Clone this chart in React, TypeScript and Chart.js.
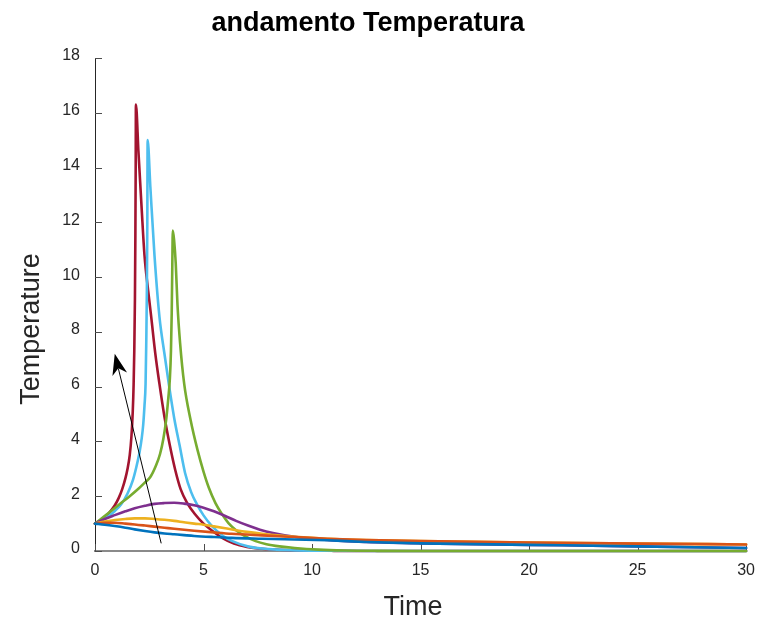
import React, { useEffect, useRef } from "react";
import { Chart, registerables } from "chart.js";

Chart.register(...registerables);

// ---------- data ----------
const xTickValues = [0, 5, 10, 15, 20, 25, 30];
const yTickValues = [0, 2, 4, 6, 8, 10, 12, 14, 16, 18];

const titleText = "andamento Temperatura";
const xTitleText = "Time";
const yTitleText = "Temperature";

const blueX = [0, 0.45, 0.91, 1.4, 1.83, 2.3, 2.74, 3.2, 3.65, 4.1, 4.57, 5.48, 6.3, 7.7, 9.2, 10.7, 12.5, 15, 20, 25, 30];
const blueY = [1, 0.96, 0.91, 0.85, 0.79, 0.73, 0.68, 0.64, 0.61, 0.58, 0.55, 0.51, 0.48, 0.45, 0.42, 0.39, 0.33, 0.28, 0.225, 0.17, 0.11];

const orangeX = [0, 0.45, 0.91, 1.4, 1.83, 2.3, 2.74, 3.2, 3.65, 4.57, 5.48, 6.3, 7.7, 9.2, 10.7, 12.5, 15, 20, 25, 30];
const orangeY = [1, 1.03, 1.03, 1.0, 0.97, 0.93, 0.89, 0.85, 0.81, 0.74, 0.68, 0.63, 0.57, 0.51, 0.45, 0.4, 0.36, 0.31, 0.27, 0.24];

const yellowX = [0, 0.45, 0.91, 1.4, 1.83, 2.3, 2.74, 3.2, 3.65, 4.1, 4.57, 5.0, 5.48, 6.0, 6.5, 7.1, 7.7, 8.4, 9.2, 10.7, 12.5, 15, 20, 25, 30];
const yellowY = [1, 1.08, 1.13, 1.17, 1.19, 1.19, 1.17, 1.14, 1.1, 1.05, 1.0, 0.96, 0.9, 0.83, 0.76, 0.69, 0.63, 0.57, 0.52, 0.45, 0.4, 0.36, 0.31, 0.27, 0.24];

const purpleX = [0, 0.45, 0.91, 1.4, 1.83, 2.3, 2.74, 3.2, 3.65, 4.1, 4.57, 5.0, 5.48, 6.0, 6.5, 7.08, 7.6, 8.2, 9.2, 10.7, 12.5, 15, 20, 25, 30];
const purpleY = [1, 1.17, 1.31, 1.45, 1.56, 1.65, 1.72, 1.75, 1.76, 1.73, 1.67, 1.58, 1.45, 1.28, 1.1, 0.92, 0.78, 0.66, 0.52, 0.4, 0.33, 0.28, 0.225, 0.17, 0.11];

const greenX = [0, 0.4, 0.8, 1.2, 1.6, 2.0, 2.3, 2.55, 2.8, 3.0, 3.15, 3.28, 3.38, 3.45, 3.5, 3.535, 3.56, 3.585, 3.65, 3.72, 3.8, 3.92, 4.11, 4.4, 4.72, 5.0, 5.25, 5.55, 5.85, 6.15, 6.5, 6.93, 7.4, 7.9, 8.5, 9.2, 10.3, 11.5, 13, 15, 20, 25, 30];
const greenY = [1, 1.25, 1.5, 1.75, 2.0, 2.27, 2.5, 2.7, 3.1, 3.55, 4.1, 4.8, 5.6, 6.3, 7.3, 8.7, 10.3, 11.7, 11.3, 10.5, 9.0, 7.6, 6.1, 4.8, 3.7, 2.9, 2.3, 1.75, 1.35, 1.02, 0.76, 0.53, 0.36, 0.25, 0.17, 0.11, 0.05, 0.02, 0.006, 0.001, 0, 0, 0];

const lightBlueX = [0, 0.3, 0.6, 0.9, 1.2, 1.5, 1.75, 1.9, 2.05, 2.15, 2.22, 2.28, 2.33, 2.36, 2.39, 2.41, 2.425, 2.55, 2.74, 2.97, 3.2, 3.4, 3.65, 3.9, 4.15, 4.43, 4.7, 5.0, 5.4, 5.9, 6.3, 7.08, 8.0, 9.0, 10.5, 13, 15, 20, 25, 30];
const lightBlueY = [1, 1.12, 1.26, 1.45, 1.7, 2.1, 2.6, 3.05, 3.6, 4.1, 4.6, 5.3, 6.1, 7.5, 9.5, 12, 15.0, 13.3, 10.8, 8.55, 7.2, 6.1, 4.85, 3.85, 2.85, 2.15, 1.7, 1.3, 0.9, 0.55, 0.37, 0.16, 0.07, 0.03, 0.01, 0.001, 0, 0, 0, 0];

const darkRedX = [0, 0.3, 0.6, 0.9, 1.1, 1.25, 1.4, 1.5, 1.6, 1.68, 1.74, 1.78, 1.81, 1.84, 1.86, 1.875, 1.885, 2.0, 2.15, 2.28, 2.45, 2.59, 2.78, 2.97, 3.2, 3.45, 3.7, 3.95, 4.25, 4.6, 5.0, 5.4, 5.9, 6.4, 7.0, 7.7, 8.5, 9.5, 11, 13, 15, 20, 25, 30];
const darkRedY = [1, 1.15, 1.35, 1.65, 1.95, 2.25, 2.65, 3.0, 3.5, 4.2, 5.1, 6.1, 7.3, 9.2, 11.5, 14, 16.3, 14.6, 12.5, 10.8, 9.5, 8.55, 7.2, 6.1, 4.9, 3.85, 2.95, 2.25, 1.75, 1.35, 1.0, 0.74, 0.46, 0.27, 0.15, 0.08, 0.045, 0.02, 0.006, 0.001, 0, 0, 0, 0];

const seriesNames = ["curve 1", "curve 2", "curve 3", "curve 4", "curve 5", "curve 6", "curve 7"];
const seriesColors = ["#0072BD", "#D95319", "#EDB120", "#7E2F8E", "#77AC30", "#4DBEEE", "#A2142F"];
const seriesX = [blueX, orangeX, yellowX, purpleX, greenX, lightBlueX, darkRedX];
const seriesY = [blueY, orangeY, yellowY, purpleY, greenY, lightBlueY, darkRedY];

// arrow annotation (data coordinates): from -> to
const arrowFrom = [3.05, 0.28];
const arrowTo = [0.91, 7.2];

const FONT = "'Liberation Sans', Arial, Helvetica, sans-serif";

const decorPlugin = {
  id: "decor",
  beforeDatasetsDraw(chart: any) {
    const { ctx, chartArea, scales } = chart;
    ctx.save();
    ctx.strokeStyle = "#4d4d4d";
    ctx.lineWidth = 1;
    ctx.beginPath();
    yTickValues.forEach((v) => {
      const py = Math.round(scales.y.getPixelForValue(v)) + 0.5;
      ctx.moveTo(chartArea.left, py);
      ctx.lineTo(chartArea.left + 7, py);
    });
    xTickValues.forEach((v) => {
      const px = Math.round(scales.x.getPixelForValue(v)) + 0.5;
      ctx.moveTo(px, chartArea.bottom);
      ctx.lineTo(px, chartArea.bottom - 7);
    });
    ctx.stroke();
    ctx.restore();
  },
  afterDatasetsDraw(chart: any) {
    const { ctx, scales } = chart;
    const x0 = scales.x.getPixelForValue(arrowFrom[0]);
    const y0 = scales.y.getPixelForValue(arrowFrom[1]);
    const x1 = scales.x.getPixelForValue(arrowTo[0]);
    const y1 = scales.y.getPixelForValue(arrowTo[1]);
    const dx = x1 - x0;
    const dy = y1 - y0;
    const len = Math.hypot(dx, dy);
    const ux = dx / len;
    const uy = dy / len;
    const nx = -uy;
    const ny = ux;
    const headLen = 21;
    const headW = 7.5;
    const notch = 15;
    ctx.save();
    ctx.strokeStyle = "#000";
    ctx.fillStyle = "#000";
    ctx.lineWidth = 1;
    ctx.beginPath();
    ctx.moveTo(x0, y0);
    ctx.lineTo(x1 - ux * notch, y1 - uy * notch);
    ctx.stroke();
    ctx.beginPath();
    ctx.moveTo(x1, y1);
    ctx.lineTo(x1 - ux * headLen + nx * headW, y1 - uy * headLen + ny * headW);
    ctx.lineTo(x1 - ux * notch, y1 - uy * notch);
    ctx.lineTo(x1 - ux * headLen - nx * headW, y1 - uy * headLen - ny * headW);
    ctx.closePath();
    ctx.fill();
    ctx.restore();
  },
  afterDraw(chart: any) {
    const { ctx } = chart;
    ctx.save();
    ctx.fillStyle = "#000";
    ctx.textAlign = "center";
    ctx.textBaseline = "alphabetic";
    ctx.font = `bold 27px ${FONT}`;
    ctx.fillText(titleText, 368, 31);
    ctx.fillStyle = "#262626";
    ctx.font = `27px ${FONT}`;
    ctx.fillText(xTitleText, 413, 615);
    ctx.translate(39, 329);
    ctx.rotate(-Math.PI / 2);
    ctx.fillText(yTitleText, 0, 0);
    ctx.restore();
  },
};

export default function App() {
  const canvasRef = useRef<HTMLCanvasElement | null>(null);

  useEffect(() => {
    document.body.style.margin = "0";
    const canvas = canvasRef.current;
    if (!canvas) return;
    const datasets = seriesNames.map((name, i) => ({
      label: name,
      data: seriesX[i].map((x, j) => ({ x, y: seriesY[i][j] })),
      borderColor: seriesColors[i],
      backgroundColor: seriesColors[i],
      borderWidth: 2.6,
      borderJoinStyle: "round" as const,
      borderCapStyle: "round" as const,
      pointRadius: 0,
      cubicInterpolationMode: "monotone" as const,
      fill: false,
      clip: false as any,
    }));
    const chart = new Chart(canvas, {
      type: "line",
      data: { datasets },
      options: {
        responsive: false,
        animation: false,
        maintainAspectRatio: false,
        layout: { padding: { top: 58, right: 13, left: 0, bottom: 0 } },
        plugins: {
          legend: { display: false },
          title: { display: false },
          tooltip: { enabled: false },
        },
        scales: {
          x: {
            type: "linear",
            min: xTickValues[0],
            max: xTickValues[xTickValues.length - 1],
            afterFit: (s: any) => {
              s.height = 71;
            },
            afterBuildTicks: (s: any) => {
              s.ticks = xTickValues.map((v) => ({ value: v }));
            },
            grid: { display: false, drawTicks: false },
            border: { display: true, color: "#8a8a8a", width: 2 },
            ticks: {
              padding: 10,
              color: "#262626",
              font: { family: FONT, size: 16 },
              maxRotation: 0,
            },
          },
          y: {
            type: "linear",
            min: yTickValues[0],
            max: yTickValues[yTickValues.length - 1],
            afterFit: (s: any) => {
              s.width = 95;
            },
            afterBuildTicks: (s: any) => {
              s.ticks = yTickValues.map((v) => ({ value: v }));
            },
            grid: { display: false, drawTicks: false },
            border: { display: true, color: "#262626", width: 1 },
            ticks: {
              padding: 15,
              labelOffset: -2,
              color: "#262626",
              font: { family: FONT, size: 16 },
            },
          },
        },
      },
      plugins: [decorPlugin],
    });
    return () => chart.destroy();
  }, []);

  return (
    <div style={{ width: 765, height: 622 }}>
      <canvas ref={canvasRef} width={765} height={622} style={{ width: 765, height: 622, display: "block" }} />
    </div>
  );
}
